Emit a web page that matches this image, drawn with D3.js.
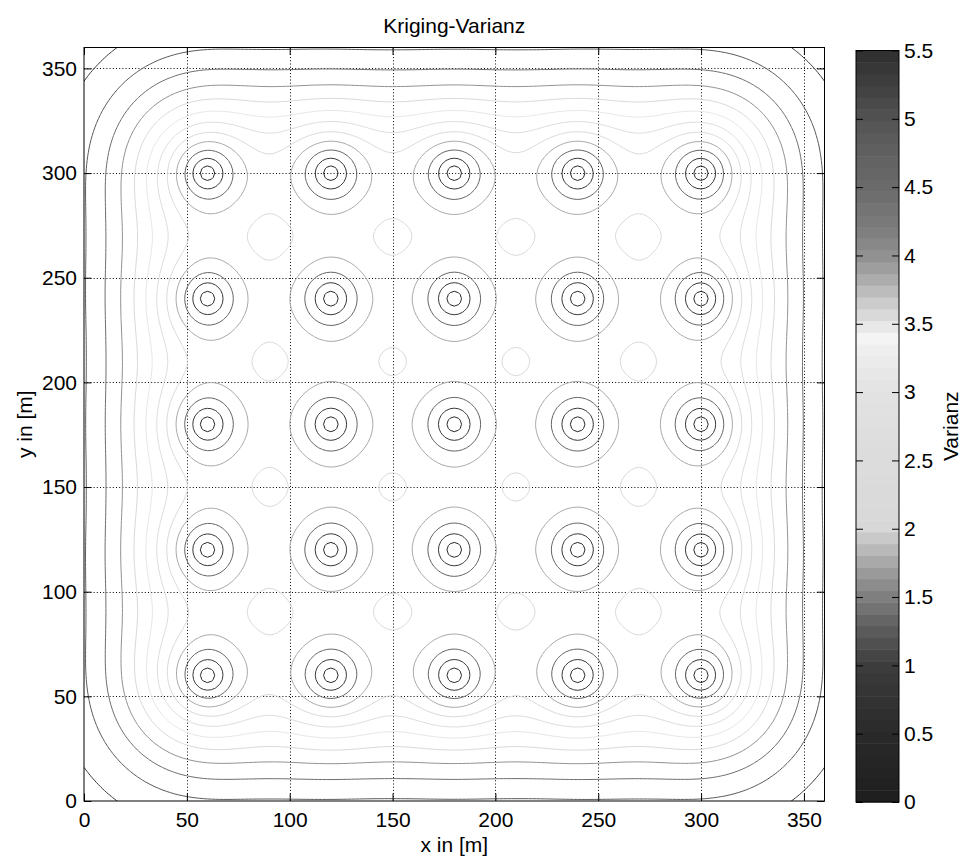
<!DOCTYPE html>
<html><head><meta charset="utf-8">
<script src="https://cdn.jsdelivr.net/npm/d3@7/dist/d3.min.js"></script>
<style>
html,body{margin:0;padding:0;background:#fff;}
svg{display:block;}
text{font-family:"Liberation Sans",Arial,Helvetica,sans-serif;fill:#000;}
</style></head><body>
<svg id="chart" width="963" height="859"></svg>
<script>
// ---------------- data ----------------
const sampleX = [60,120,180,240,300];          // sample locations (x, m)
const sampleY = [60,120,180,240,300];          // sample locations (y, m)
const contourLevels = [0.5,1,1.5,2,2.5,3,3.5,4,4.5,5,5.5,6];
const xTicks = [0,50,100,150,200,250,300,350];
const yTicks = [0,50,100,150,200,250,300,350];
const colorTicks = [0,0.5,1,1.5,2,2.5,3,3.5,4,4.5,5,5.5];
const colorStops = [0,0.5,1,1.1,1.2,1.3,1.4,1.5,1.6,1.7,1.8,1.9,2.0,2.5,3.0,3.3,3.42,3.5,3.6,3.7,3.8,3.9,4.0,4.2,4.5,4.8,5.0,5.3,5.5];
const colorGrays = [30,42,60,72,85,96,112,126,142,158,176,194,216,220,226,238,245,228,212,196,176,160,144,124,106,94,82,60,46];
// spherical variogram (nugget, sill, range)
const vgNugget = 0, vgSill = 5.823, vgRange = 116;
const titleText = "Kriging-Varianz", xLabelText = "x in [m]", yLabelText = "y in [m]", cLabelText = "Varianz";

// ---------------- ordinary kriging variance ----------------
const pts = [];
sampleY.forEach(py => sampleX.forEach(px => pts.push([px, py])));
const nP = pts.length, N = nP + 1;
const gamma = h => h <= 0 ? 0 : vgNugget + (h >= vgRange ? vgSill : vgSill*(1.5*h/vgRange - 0.5*Math.pow(h/vgRange,3)));
function invert(A, n){
  const w = 2*n, M = new Float64Array(n*w);
  for (let i=0;i<n;i++){ for (let j=0;j<n;j++) M[i*w+j]=A[i*n+j]; M[i*w+n+i]=1; }
  for (let c=0;c<n;c++){
    let p=c, best=Math.abs(M[c*w+c]);
    for (let r=c+1;r<n;r++){ const v=Math.abs(M[r*w+c]); if (v>best){best=v;p=r;} }
    if (p!==c){ for (let j=0;j<w;j++){ const t=M[c*w+j]; M[c*w+j]=M[p*w+j]; M[p*w+j]=t; } }
    const d = M[c*w+c];
    for (let j=0;j<w;j++) M[c*w+j]/=d;
    for (let r=0;r<n;r++){ if (r===c) continue; const f=M[r*w+c]; if (f===0) continue;
      for (let j=0;j<w;j++) M[r*w+j]-=f*M[c*w+j]; }
  }
  const inv = new Float64Array(n*n);
  for (let i=0;i<n;i++) for (let j=0;j<n;j++) inv[i*n+j]=M[i*w+n+j];
  return inv;
}
const A = new Float64Array(N*N);
for (let i=0;i<nP;i++){
  for (let j=0;j<nP;j++) A[i*N+j]=gamma(Math.hypot(pts[i][0]-pts[j][0], pts[i][1]-pts[j][1]));
  A[i*N+nP]=1; A[nP*N+i]=1;
}
const Kinv = invert(A, N);
const rbuf = new Float64Array(N);
function krigVar(px, py){
  for (let i=0;i<nP;i++) rbuf[i]=gamma(Math.hypot(pts[i][0]-px, pts[i][1]-py));
  rbuf[nP]=1;
  let s=0;
  for (let i=0;i<N;i++){ let t=0; const o=i*N; for (let j=0;j<N;j++) t+=Kinv[o+j]*rbuf[j]; s+=rbuf[i]*t; }
  return s;
}

// ---------------- field on grid ----------------
const g0 = -4, gStep = 2, gN = 185;
const values = new Array(gN*gN);
for (let j=0;j<gN;j++) for (let i=0;i<gN;i++) values[j*gN+i] = krigVar(g0+i*gStep, g0+j*gStep);

// ---------------- layout ----------------
const svg = d3.select('#chart');
const P = {l:84, r:824.5, t:47.5, b:801};
const CB = {l:856, r:899, t:50.5, b:802};
const x = d3.scaleLinear().domain([0,360]).range([P.l,P.r]);
const y = d3.scaleLinear().domain([0,360]).range([P.b,P.t]);
const cy = d3.scaleLinear().domain([0,5.5]).range([CB.b,CB.t]);
const grayAt = d3.scaleLinear().domain(colorStops).range(colorGrays).clamp(true);
const nBands = 64, cMax = 5.5, lineCMax = 6.2;
const bandColor = k => { const v = Math.round(grayAt((k+0.5)*cMax/nBands)); return `rgb(${v},${v},${v})`; };
const levelColor = L => bandColor(Math.max(0, Math.min(nBands-1, Math.floor(L/lineCMax*nBands))));

svg.append('defs').append('clipPath').attr('id','plotclip').append('rect')
  .attr('x',P.l).attr('y',P.t).attr('width',P.r-P.l).attr('height',P.b-P.t);

// dotted grid
const grid = svg.append('g').attr('stroke','#000').attr('stroke-width',1).attr('stroke-dasharray','1,2.2');
xTicks.filter(v=>v>0).forEach(v=>grid.append('line').attr('x1',Math.round(x(v))+0.5).attr('x2',Math.round(x(v))+0.5).attr('y1',P.t).attr('y2',P.b));
yTicks.filter(v=>v>0).forEach(v=>grid.append('line').attr('y1',Math.round(y(v))+0.5).attr('y2',Math.round(y(v))+0.5).attr('x1',P.l).attr('x2',P.r));

// contour lines
const cont = d3.contours().size([gN,gN]).thresholds(contourLevels)(values);
const toPx = c => x(g0+(c[0]-0.5)*gStep).toFixed(2) + ',' + y(g0+(c[1]-0.5)*gStep).toFixed(2);
const cg = svg.append('g').attr('clip-path','url(#plotclip)').attr('fill','none').attr('stroke-width',1);
cont.forEach(mp => {
  let d='';
  mp.coordinates.forEach(poly => poly.forEach(ring => { d += 'M' + ring.map(toPx).join('L') + 'Z'; }));
  cg.append('path').attr('d',d).attr('stroke', levelColor(mp.value));
});

// frame and ticks
svg.append('rect').attr('x',P.l).attr('y',P.t).attr('width',P.r-P.l).attr('height',P.b-P.t)
  .attr('fill','none').attr('stroke','#000').attr('stroke-width',1);
function styleAxis(g){ g.select('.domain').remove(); g.selectAll('.tick line').attr('stroke','#000');
  g.selectAll('text').attr('font-size',21).attr('font-family','"Liberation Sans",Arial,sans-serif').attr('fill','#000'); }
const T=7.5;
svg.append('g').attr('transform',`translate(0,${P.b})`).call(d3.axisBottom(x).tickValues(xTicks).tickSizeInner(-T).tickSizeOuter(0).tickPadding(11)).call(styleAxis);
svg.append('g').attr('transform',`translate(0,${P.t})`).call(d3.axisTop(x).tickValues(xTicks).tickSizeInner(-T).tickSizeOuter(0).tickFormat('')).call(styleAxis);
svg.append('g').attr('transform',`translate(${P.l},0)`).call(d3.axisLeft(y).tickValues(yTicks).tickSizeInner(-T).tickSizeOuter(0).tickPadding(7)).call(styleAxis);
svg.append('g').attr('transform',`translate(${P.r},0)`).call(d3.axisRight(y).tickValues(yTicks).tickSizeInner(-T).tickSizeOuter(0).tickFormat('')).call(styleAxis);

// colorbar
const cbg = svg.append('g');
d3.range(nBands).forEach(k => cbg.append('rect').attr('x',CB.l).attr('width',CB.r-CB.l)
  .attr('y', cy((k+1)*cMax/nBands)).attr('height', cy(k*cMax/nBands)-cy((k+1)*cMax/nBands)+0.5)
  .attr('fill', bandColor(k)));
svg.append('rect').attr('x',CB.l).attr('y',CB.t).attr('width',CB.r-CB.l).attr('height',CB.b-CB.t)
  .attr('fill','none').attr('stroke','#000').attr('stroke-width',1);
svg.append('g').attr('transform',`translate(${CB.r},0)`).call(d3.axisRight(cy).tickValues(colorTicks).tickSizeInner(-7).tickSizeOuter(0).tickPadding(5).tickFormat(d=>String(d))).call(styleAxis);
svg.append('g').attr('transform',`translate(${CB.l},0)`).call(d3.axisLeft(cy).tickValues(colorTicks).tickSizeInner(-7).tickSizeOuter(0).tickFormat('')).call(styleAxis);

// labels
svg.append('text').attr('x',(P.l+P.r)/2).attr('y',33).attr('text-anchor','middle').attr('font-size',21).text(titleText);
svg.append('text').attr('x',(P.l+P.r)/2).attr('y',852).attr('text-anchor','middle').attr('font-size',21).text(xLabelText);
svg.append('text').attr('transform',`translate(32,${(P.t+P.b)/2}) rotate(-90)`).attr('text-anchor','middle').attr('font-size',21).text(yLabelText);
svg.append('text').attr('transform',`translate(958,${(CB.t+CB.b)/2}) rotate(-90)`).attr('text-anchor','middle').attr('font-size',21).text(cLabelText);
</script></body></html>
